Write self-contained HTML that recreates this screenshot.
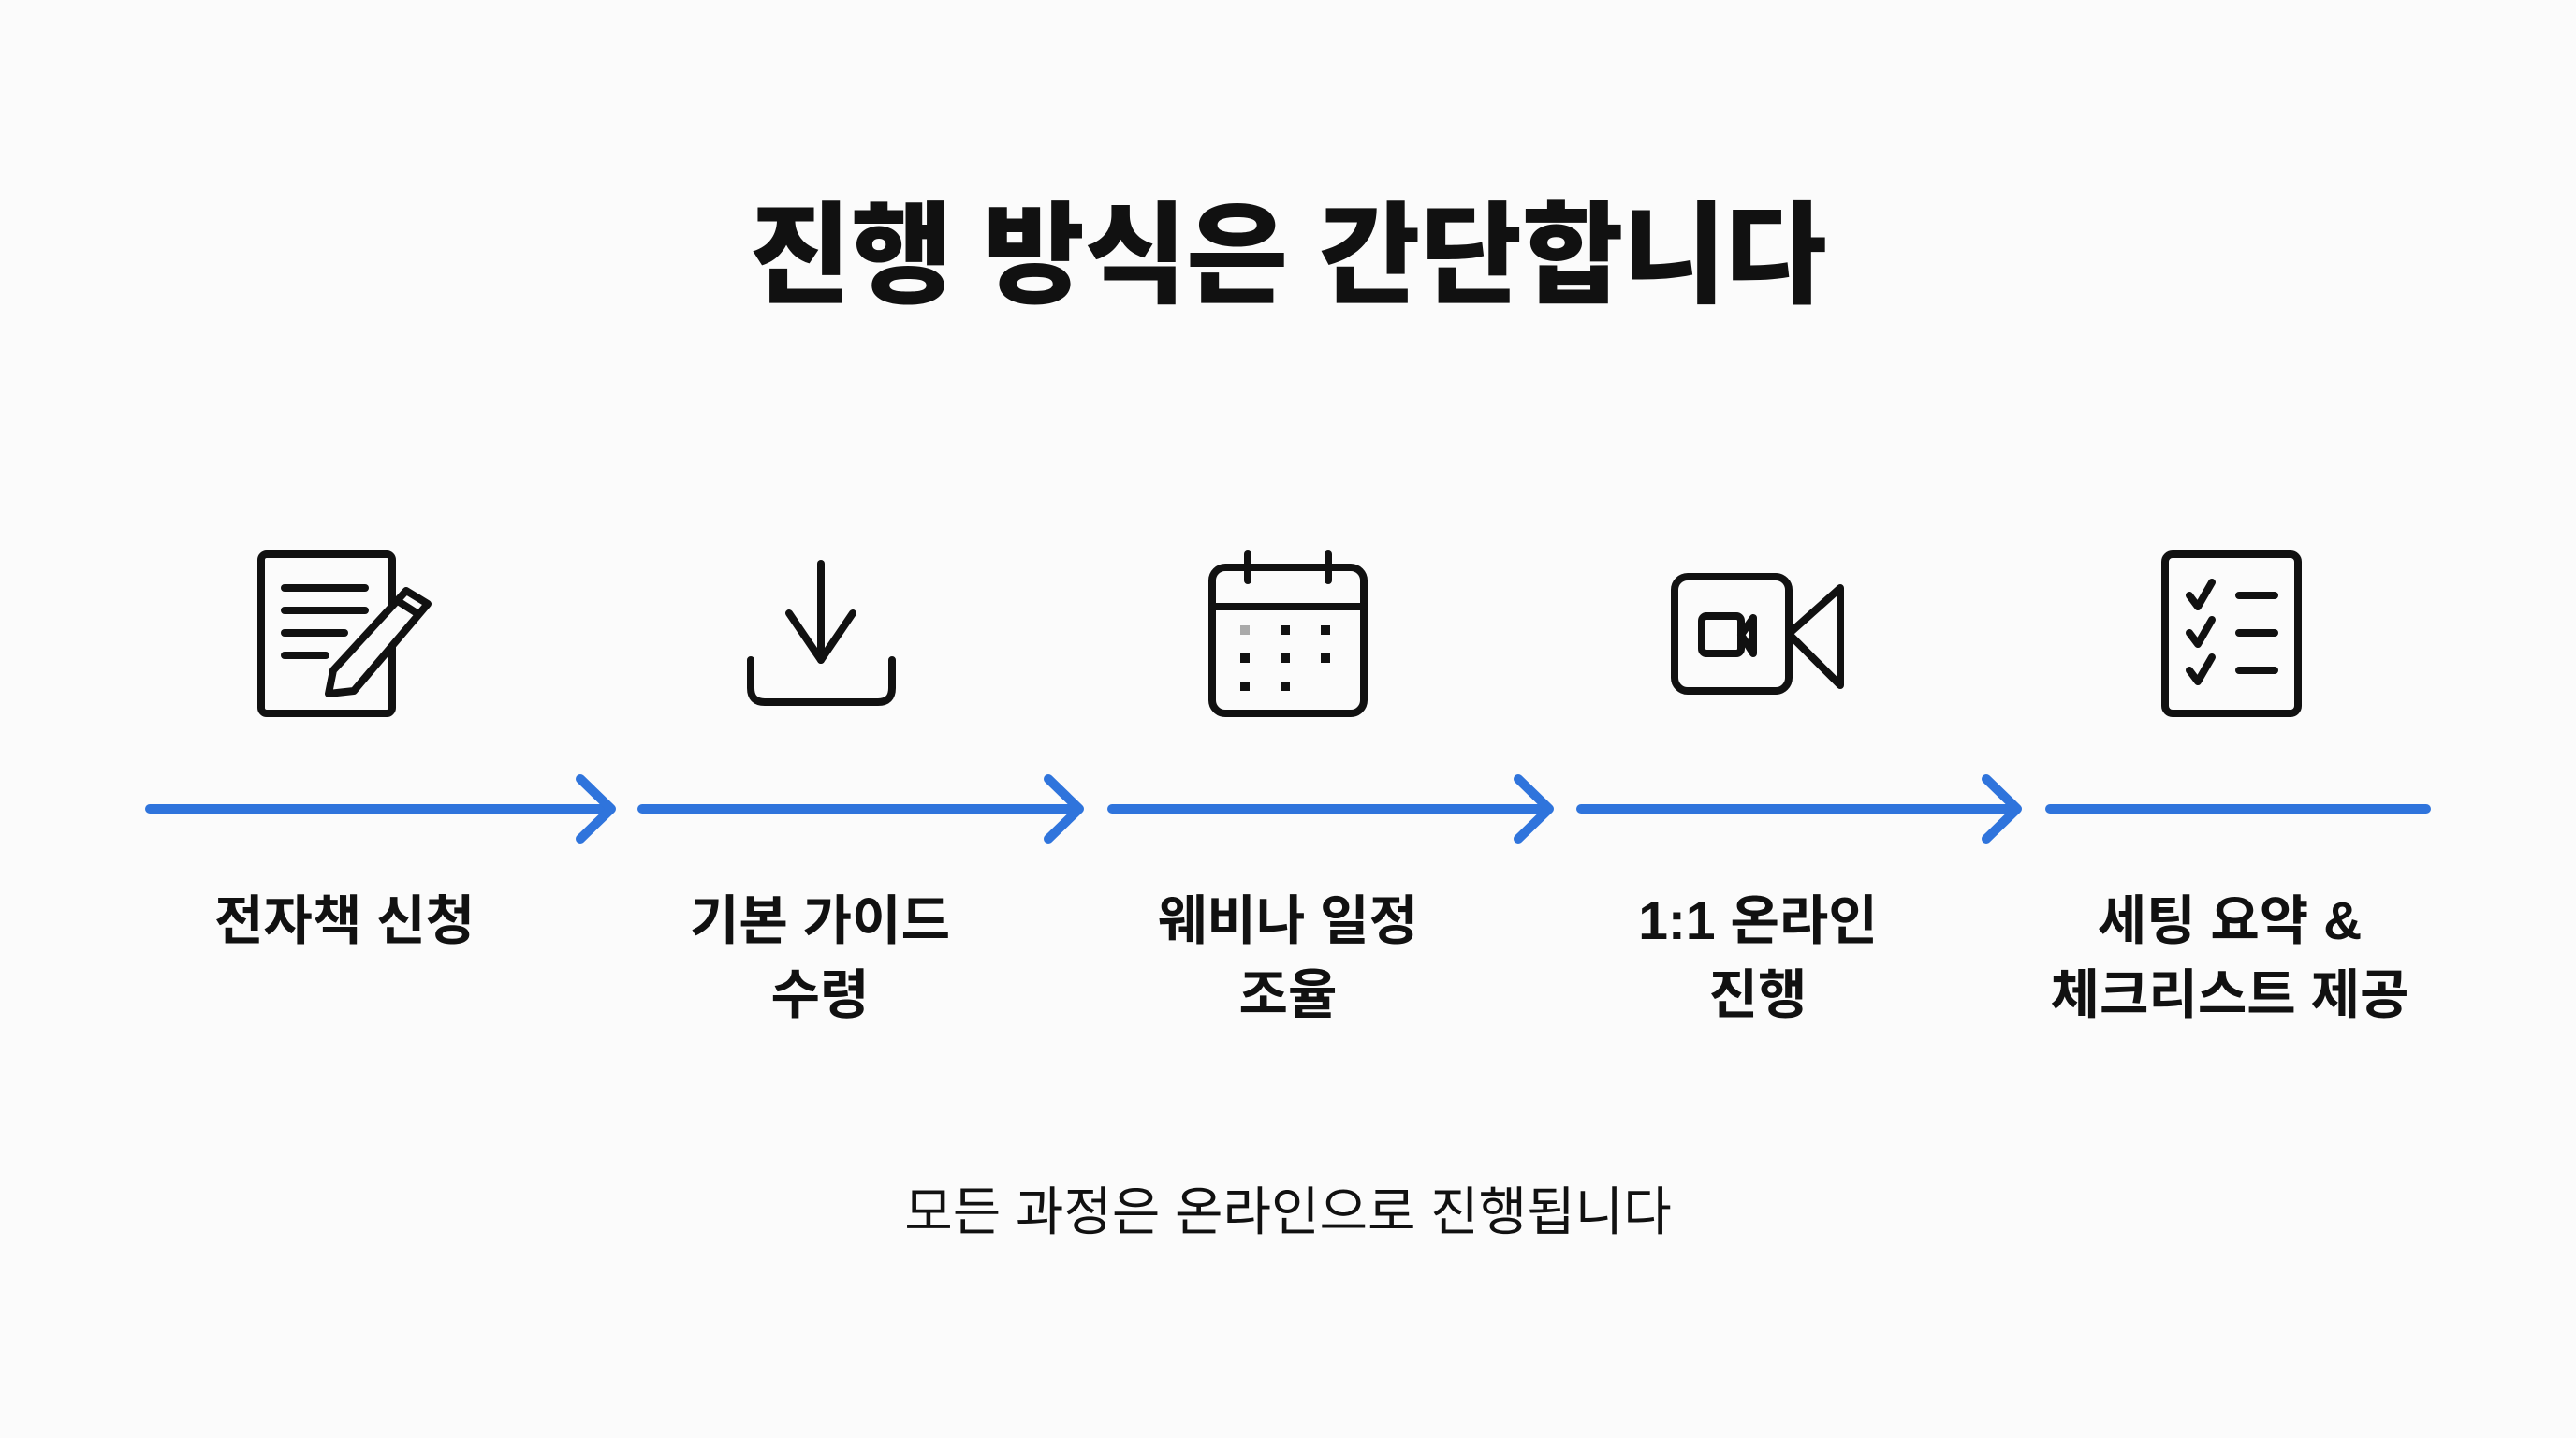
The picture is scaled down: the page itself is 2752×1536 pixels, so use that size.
<!DOCTYPE html>
<html><head><meta charset="utf-8"><style>
html,body{margin:0;padding:0;background:#fbfbfb;}
svg{display:block}
text{font-family:"Liberation Sans","Noto Sans CJK KR",sans-serif;fill:#111;}
.t{font-weight:900;font-size:118px}
.l{font-weight:700;font-size:57px}
.b{font-weight:400;font-size:56px}
</style></head><body>
<svg width="2752" height="1536" viewBox="0 0 2752 1536" xmlns="http://www.w3.org/2000/svg">
<rect width="2752" height="1536" fill="#fbfbfb"/>
<text class="t" x="1376" y="314" text-anchor="middle">진행 방식은 간단합니다</text>

<g stroke="#111" stroke-width="8" fill="none" stroke-linecap="round" stroke-linejoin="round">
 <rect x="279" y="592" width="140" height="170" rx="6"/>
 <line x1="304" y1="628" x2="390" y2="628"/>
 <line x1="304" y1="652" x2="390" y2="652"/>
 <line x1="304" y1="676" x2="368" y2="676"/>
 <line x1="304" y1="700" x2="348" y2="700"/>
 <path d="M434 631 L457 645 L378 738 L351 741 L356 716 Z" fill="#fbfbfb"/>
 <line x1="425" y1="642" x2="447" y2="656"/>
 <line x1="877" y1="602" x2="877" y2="705"/>
 <polyline points="843,655 877,705 911,655"/>
 <path d="M802 705 V735 Q802 750 817 750 H938 Q953 750 953 735 V705"/>
 <rect x="1295" y="606" width="162" height="156" rx="14"/>
 <line x1="1295" y1="648" x2="1457" y2="648"/>
 <line x1="1333" y1="592" x2="1333" y2="620"/>
 <line x1="1419" y1="592" x2="1419" y2="620"/>
 <rect x="1789" y="616" width="122" height="122" rx="14"/>
 <rect x="1818" y="658" width="42" height="40" rx="5"/>
 <polygon points="1860,678 1873,660 1873,698"/>
 <polygon points="1911,677 1966,628 1966,732"/>
 <rect x="2313" y="592" width="142" height="170" rx="8"/>
 <polyline points="2339,636 2348,648 2363,622"/>
 <polyline points="2339,676 2348,688 2363,662"/>
 <polyline points="2339,716 2348,728 2363,702"/>
 <line x1="2392" y1="636" x2="2430" y2="636"/>
 <line x1="2392" y1="676" x2="2430" y2="676"/>
 <line x1="2392" y1="716" x2="2430" y2="716"/>
</g>
<g fill="#111">
 <rect x="1325" y="668" width="10" height="10" fill="#aaa"/><rect x="1368" y="668" width="10" height="10"/><rect x="1411" y="668" width="10" height="10"/>
 <rect x="1325" y="698" width="10" height="10"/><rect x="1368" y="698" width="10" height="10"/><rect x="1411" y="698" width="10" height="10"/>
 <rect x="1325" y="728" width="10" height="10"/><rect x="1368" y="728" width="10" height="10"/>
</g>

<g stroke="#2f74dc" stroke-width="10" fill="none" stroke-linecap="round" stroke-linejoin="round">
 <line x1="160" y1="864" x2="652" y2="864"/><polyline points="620,832 653,864 620,896"/>
 <line x1="686" y1="864" x2="1152" y2="864"/><polyline points="1120,832 1153,864 1120,896"/>
 <line x1="1188" y1="864" x2="1654" y2="864"/><polyline points="1622,832 1655,864 1622,896"/>
 <line x1="1689" y1="864" x2="2154" y2="864"/><polyline points="2122,832 2155,864 2122,896"/>
 <line x1="2190" y1="864" x2="2592" y2="864"/>
</g>

<g text-anchor="middle">
 <text class="l" x="368" y="1003">전자책 신청</text>
 <text class="l" x="876" y="1003">기본 가이드</text>
 <text class="l" x="876" y="1082">수령</text>
 <text class="l" x="1376" y="1003">웨비나 일정</text>
 <text class="l" x="1376" y="1082">조율</text>
 <text class="l" x="1878" y="1003">1:1 온라인</text>
 <text class="l" x="1878" y="1082">진행</text>
 <text class="l" x="2382" y="1003">세팅 요약 &amp;</text>
 <text class="l" x="2382" y="1082">체크리스트 제공</text>
 <text class="b" x="1376" y="1314">모든 과정은 온라인으로 진행됩니다</text>
</g>
</svg>
</body></html>
